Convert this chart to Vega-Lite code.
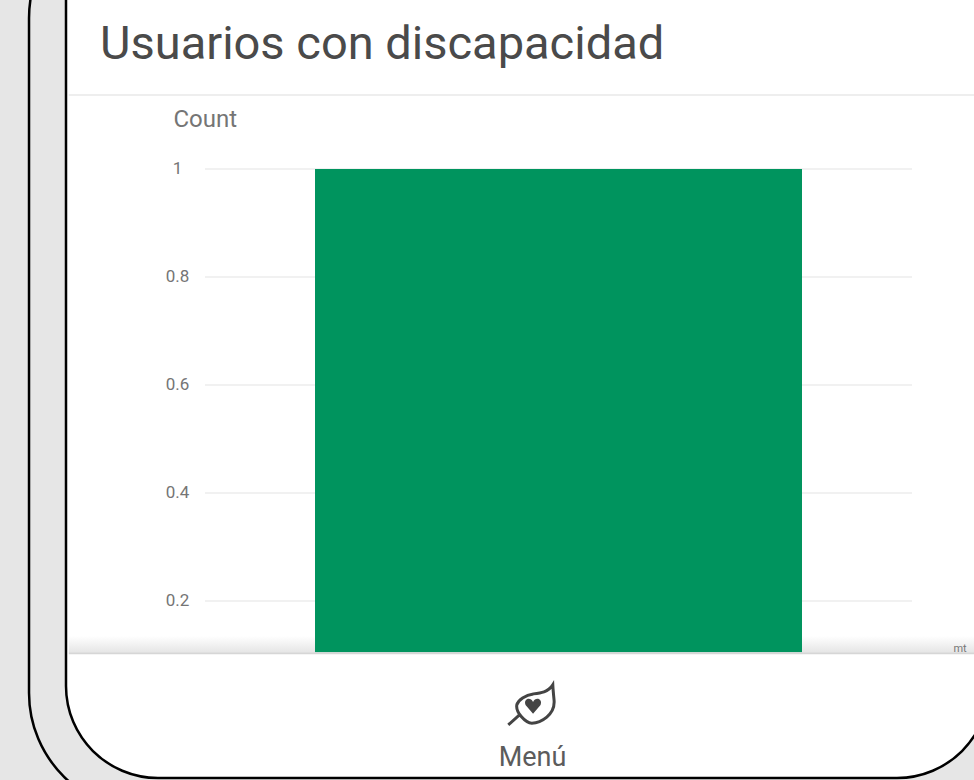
{"$schema":"https://vega.github.io/schema/vega-lite/v6.json","width":923,"height":878,"autosize":"none","padding":{"left":66,"top":-100,"right":-15,"bottom":2},"background":"#e6e6e6","view":{"fill":"#ffffff","stroke":"#000000","strokeWidth":2.5,"cornerRadius":92},"title":{"text":"Usuarios con discapacidad","anchor":"start","frame":"group","font":"Roboto","fontSize":47,"fontWeight":"normal","color":"#4a4a4a","dx":34,"offset":-170},"config":{"font":"Roboto"},"data":{"values":[{"category":"Usuarios con discapacidad","count":1}]},"layer":[{"mark":{"type":"rect","fill":null,"stroke":"#000000","strokeWidth":2.5,"cornerRadius":118},"encoding":{"x":{"datum":-0.2489,"type":"quantitative","scale":{"domain":[-0.1966,1.1089],"nice":false,"zero":false},"axis":{"title":"Menú","orient":"bottom","labels":false,"ticks":false,"domain":false,"grid":false,"titleFont":"Roboto","titleFontSize":27,"titleFontWeight":"normal","titleColor":"#5c5c5c","titleX":466,"titleY":-13,"titleAlign":"center","titleBaseline":"alphabetic"}},"x2":{"datum":2},"y":{"datum":1.498,"type":"quantitative","scale":{"domain":[-0.128,1.498],"nice":false,"zero":false},"axis":{"title":"Count","values":[0.2,0.4,0.6,0.8,1],"format":"~g","offset":-139,"domain":false,"ticks":false,"grid":false,"labelAlign":"center","labelPadding":28,"labelFont":"Roboto","labelFontSize":17,"labelColor":"#757575","titleFont":"Roboto","titleFontSize":24,"titleFontWeight":"normal","titleColor":"#757575","titleAngle":0,"titleAlign":"left","titleBaseline":"alphabetic","titleX":-32,"titleY":226}},"y2":{"datum":-0.189}}},{"data":{"values":[{"tick":1},{"tick":0.8},{"tick":0.6},{"tick":0.4},{"tick":0.2}]},"mark":{"type":"rule","color":"#ececec","strokeWidth":1.5},"encoding":{"x":{"datum":0,"type":"quantitative"},"x2":{"datum":1},"y":{"field":"tick","type":"quantitative"}}},{"mark":{"type":"rule","color":"#eeeeee","strokeWidth":2},"encoding":{"x":{"datum":-0.1926,"type":"quantitative"},"x2":{"datum":1.1},"y":{"datum":1.137,"type":"quantitative"}}},{"mark":{"type":"rect","fill":{"x1":0,"y1":0,"x2":0,"y2":1,"gradient":"linear","stops":[{"offset":0,"color":"#ffffff"},{"offset":1,"color":"#e6e6e6"}]}},"encoding":{"x":{"datum":-0.1926,"type":"quantitative"},"x2":{"datum":1.1},"y":{"datum":0.135,"type":"quantitative"},"y2":{"datum":0.105}}},{"mark":{"type":"bar","color":"#00945e"},"encoding":{"x":{"datum":0.1556,"type":"quantitative"},"x2":{"datum":0.8444},"y":{"field":"count","type":"quantitative"},"y2":{"datum":0.105}}},{"mark":{"type":"rule","color":"#d6d6d6","strokeWidth":2},"encoding":{"x":{"datum":-0.1926,"type":"quantitative"},"x2":{"datum":1.1},"y":{"datum":0.103,"type":"quantitative"}}},{"mark":{"type":"text","text":"mt","font":"Roboto","fontSize":11,"color":"#777777","align":"center"},"encoding":{"x":{"datum":1.068,"type":"quantitative"},"y":{"datum":0.11,"type":"quantitative"}}},{"mark":{"type":"point","shape":"M.79-.8C.6-.5.3-.47.01-.44C-.3-.4-.6-.2-.65 0C-.7.3-.3.73-.05.73C.3.73.9.4.84-.2C.82-.4.8-.6.79-.8ZM-.52.38L-.99.8","size":2500,"filled":false,"stroke":"#444444","strokeWidth":3,"opacity":1},"encoding":{"x":{"datum":0.464,"type":"quantitative"},"y":{"datum":0.0074,"type":"quantitative"}}},{"mark":{"type":"point","shape":"M0 .35L-.3 0C-.4-.25-.1-.35 0-.12C.1-.35.4-.25.3 0Z","size":2500,"filled":true,"fill":"#444444","opacity":1},"encoding":{"x":{"datum":0.464,"type":"quantitative"},"y":{"datum":0.0074,"type":"quantitative"}}}]}
